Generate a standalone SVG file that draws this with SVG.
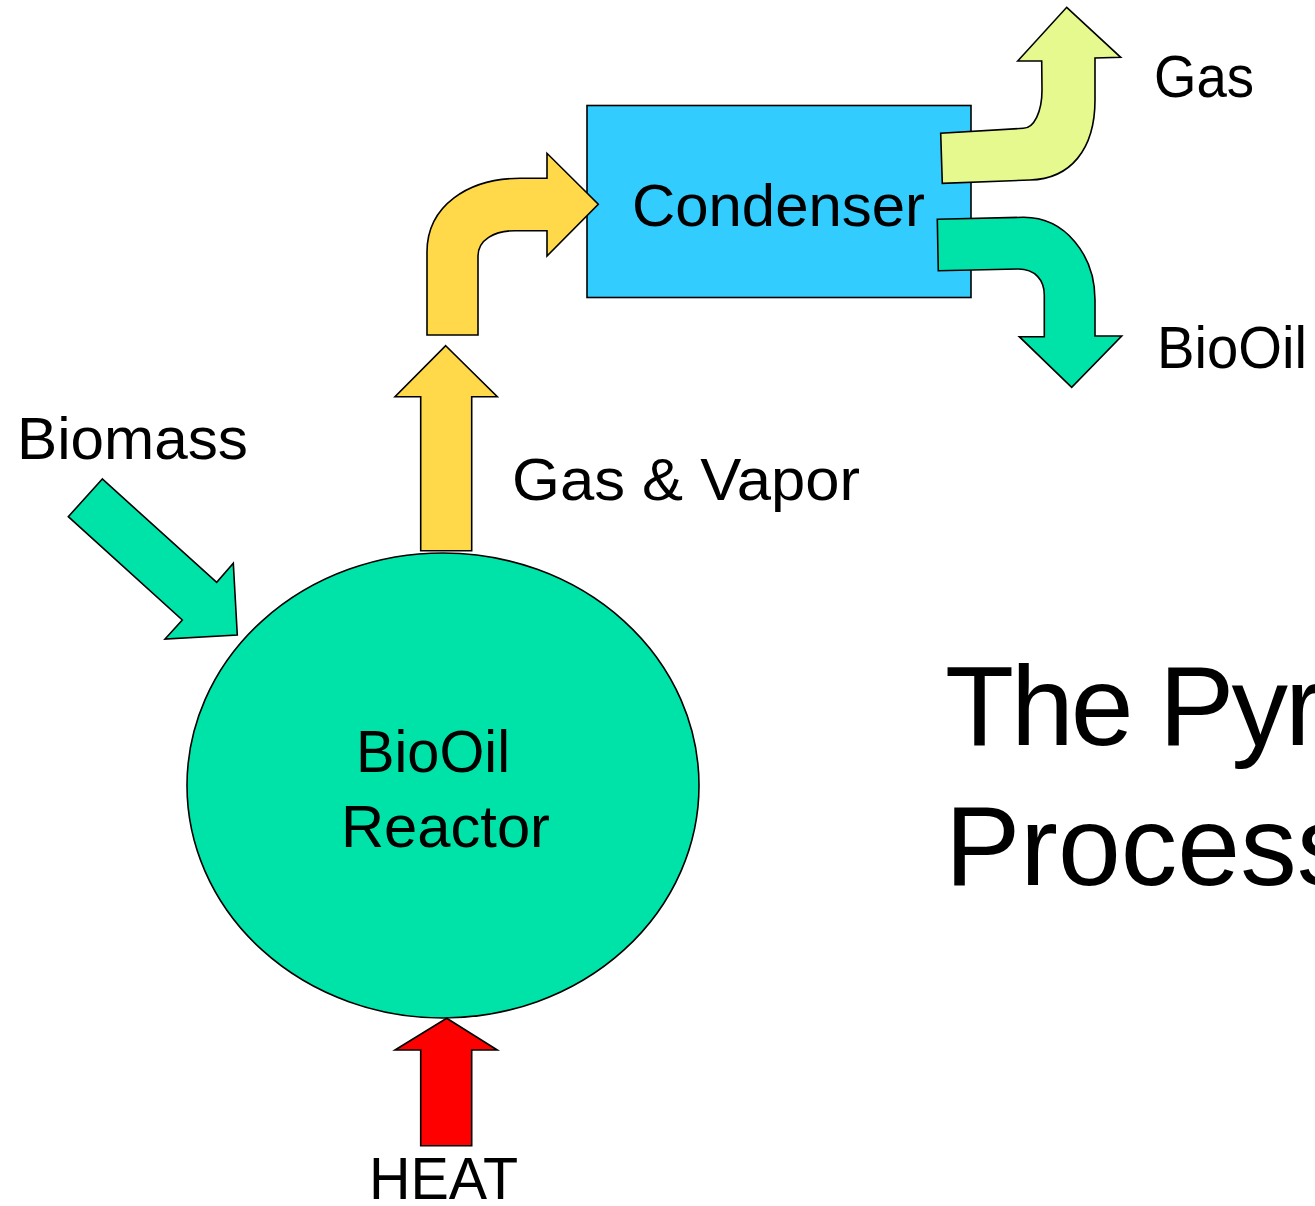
<svg xmlns="http://www.w3.org/2000/svg" width="1315" height="1206" viewBox="0 0 1315 1206">
<style>
.lbl{font-family:"Liberation Sans",Arial,sans-serif;font-size:60px;fill:#000}
.title{font-family:"Liberation Sans",Arial,sans-serif;font-size:113px;fill:#000}
.arr{stroke:#000;stroke-width:1.6;stroke-linejoin:miter}
.green{fill:#00E3A8}
.yellow{fill:#FFD94A}
.lime{fill:#E6F98F}
.red{fill:#FF0000}
</style>
<rect width="1315" height="1206" fill="#fff"/>
<g id="reactor">
<ellipse cx="443" cy="785.5" rx="256" ry="232.5" class="green" stroke="#000" stroke-width="1.6"/>
<text class="lbl" x="356" y="772" textLength="154" lengthAdjust="spacingAndGlyphs">BioOil</text>
<text class="lbl" x="341" y="847" textLength="209" lengthAdjust="spacingAndGlyphs">Reactor</text>
</g>
<g id="condenser">
<rect x="587" y="105.5" width="384" height="192" fill="#33CCFF" stroke="#000" stroke-width="1.6"/>
<text class="lbl" x="632" y="226" textLength="293" lengthAdjust="spacingAndGlyphs">Condenser</text>
</g>
<g id="connectors">
<path id="biomass-arrow" class="arr green" d="M102.3,479 L68.3,516.7 L182.3,620 L165,639 L237.3,635 L233.3,563.3 L216.7,582.3 Z"/>
<path id="vapor-arrow" class="arr yellow" d="M445.7,345.7 L497.3,396.7 L471.7,396.7 L471.7,550.7 L420.7,550.7 L420.7,396.7 L395,396.7 Z"/>
<path id="heat-arrow" class="arr red" d="M446.7,1018.3 L497.3,1050 L471.7,1050 L471.7,1145.7 L420.7,1145.7 L420.7,1050 L395,1050 Z"/>
<path id="pipe-arrow" class="arr yellow" d="M427,335 L427,252 C427,206 468,178.3 520,178.3 L547,178.3 L547,153.3 L598.3,204.3 L547,256 L547,230.7 L515,230.7 C494,230.7 478,240 478,256 L478,335 Z"/>
<path id="gas-arrow" class="arr lime" d="M1066.7,7.3 L1120.7,57.3 L1095,58 L1095,100 C1095,150 1070,179 1030,180 L942.3,183.3 L940.7,133.3 L1023.3,128.3 C1034,128 1042,112 1042,90 L1041.7,61 L1017.7,61 Z"/>
<path id="biooil-arrow" class="arr green" d="M937.3,219.3 L1023.3,217.3 C1065,217 1095,255 1095,300 L1095,336 L1121.7,336 L1071.7,387.3 L1019.3,336.7 L1044.3,336.7 L1044.3,295 C1044.3,280 1035,269 1018.3,269 L938.3,270.7 Z"/>
</g>
<g id="labels">
<text class="lbl" x="1154" y="97" textLength="100" lengthAdjust="spacingAndGlyphs">Gas</text>
<text class="lbl" x="1157" y="368" textLength="150" lengthAdjust="spacingAndGlyphs">BioOil</text>
<text class="lbl" x="17" y="459" textLength="231" lengthAdjust="spacingAndGlyphs">Biomass</text>
<text class="lbl" x="512" y="500" textLength="348" lengthAdjust="spacingAndGlyphs">Gas &amp; Vapor</text>
<text class="lbl" x="369" y="1199" textLength="149" lengthAdjust="spacingAndGlyphs">HEAT</text>
</g>
<g id="title">
<text class="title" x="945" y="745" letter-spacing="-3">The Pyrolysis</text>
<text class="title" x="945" y="885">Process</text>
</g>
</svg>
